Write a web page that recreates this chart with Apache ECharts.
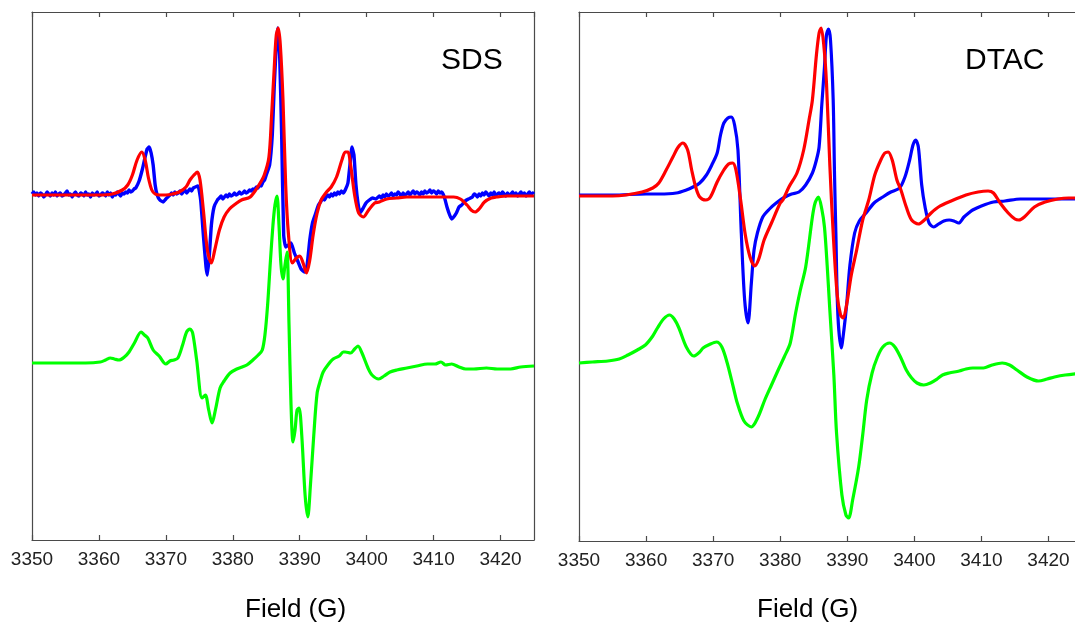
<!DOCTYPE html>
<html><head><meta charset="utf-8">
<script src="https://cdn.jsdelivr.net/npm/echarts@6/dist/echarts.min.js"></script>
<style>html,body{margin:0;padding:0;background:#fff}#c{width:1075px;height:628px}</style>
</head><body><div id="c"></div>
<script>
// axis settings
const fieldMin = 3350, fieldMax = 3425, fieldStep = 10;
const panelLabels = ['SDS', 'DTAC'];
const axisTitle = 'Field (G)';
const intensityRangeSDS = [-345, 183];
const intensityRangeDTAC = [-346, 183];

// SDS: experimental (blue, noisy)
const sdsExp = [[3350,1],[3350.25,3],[3350.5,0],[3350.75,2],[3351,-1],[3351.25,2],[3351.5,1],[3351.75,-2],[3352,0],[3352.25,3],[3352.5,1],[3352.75,-1],[3353,2],[3353.25,0],[3353.5,3],[3353.75,-1],[3354,1],[3354.25,2],[3354.5,-1],[3354.75,0],[3355,2],[3355.25,4],[3355.5,0],[3355.75,1],[3356,-2],[3356.25,1],[3356.5,3],[3356.75,0],[3357,-1],[3357.25,2],[3357.5,1],[3357.75,-1],[3358,3],[3358.25,0],[3358.5,1],[3358.75,-2],[3359,2],[3359.25,0],[3359.5,1],[3359.75,3],[3360,-1],[3360.25,0],[3360.5,2],[3360.75,1],[3361,-1],[3361.25,3],[3361.5,0],[3361.75,2],[3362,-2],[3362.25,1],[3362.5,0],[3362.75,3],[3363,1],[3363.25,-1],[3363.5,2],[3363.75,1],[3364,3],[3364.25,2],[3364.5,5],[3364.75,3],[3365,4],[3365.25,6],[3365.5,7],[3366,14],[3366.5,26],[3366.9,38],[3367.2,46],[3367.5,48],[3367.8,42],[3368.1,30],[3368.4,10],[3368.7,0],[3369.1,-5],[3369.6,-7],[3370,-4],[3370.3,-2],[3370.6,0],[3370.85,2],[3371.1,0],[3371.35,3],[3371.6,1],[3371.85,2],[3372.1,4],[3372.35,1],[3372.6,3],[3372.85,5],[3373.1,2],[3373.35,4],[3373.6,6],[3373.85,4],[3374.1,7],[3374.4,8],[3374.8,9],[3375.2,-5],[3375.6,-40],[3376,-72],[3376.2,-80],[3376.5,-60],[3376.8,-30],[3377.2,-12],[3377.7,-5],[3378,-3],[3378.25,-1],[3378.5,-4],[3378.75,-2],[3379,0],[3379.25,-2],[3379.5,1],[3379.75,-1],[3380,0],[3380.25,2],[3380.5,0],[3380.75,1],[3381,3],[3381.25,1],[3381.5,2],[3381.75,4],[3382,2],[3382.25,3],[3382.5,5],[3382.75,4],[3383,6],[3383.25,5],[3383.5,8],[3383.75,7],[3384,10],[3384.25,9],[3384.5,13],[3384.75,15],[3385,20],[3385.5,30],[3385.9,60],[3386.2,110],[3386.5,150],[3386.7,167],[3387,140],[3387.3,60],[3387.6,-40],[3387.9,-52],[3388.3,-50],[3388.7,-48],[3389.2,-58],[3389.7,-66],[3390.2,-74],[3390.7,-77],[3391.1,-70],[3391.5,-45],[3391.9,-28],[3392.3,-20],[3392.8,-10],[3393.2,-6],[3393.45,-3],[3393.7,-5],[3393.95,-2],[3394.2,0],[3394.45,-2],[3394.7,1],[3394.95,-1],[3395.2,2],[3395.45,0],[3395.7,3],[3395.95,1],[3396.2,4],[3396.5,2],[3396.8,5],[3397.2,12],[3397.5,30],[3397.8,48],[3398.1,40],[3398.4,10],[3398.7,-8],[3399,-18],[3399.4,-14],[3399.9,-8],[3400.4,-5],[3400.9,-3],[3401.4,-4],[3401.9,-1],[3402.2,-3],[3402.45,0],[3402.7,-2],[3402.95,1],[3403.2,-1],[3403.45,0],[3403.7,2],[3403.95,-1],[3404.2,1],[3404.45,0],[3404.7,3],[3404.95,1],[3405.2,-1],[3405.45,2],[3405.7,0],[3405.95,1],[3406.2,3],[3406.45,0],[3406.7,2],[3406.95,4],[3407.2,1],[3407.45,3],[3407.7,2],[3407.95,0],[3408.2,3],[3408.45,1],[3408.7,4],[3408.95,2],[3409.2,3],[3409.45,5],[3409.7,2],[3409.95,4],[3410.2,3],[3410.45,1],[3410.7,4],[3410.95,2],[3411.2,3],[3411.6,-2],[3412,-12],[3412.4,-20],[3412.7,-24],[3413,-22],[3413.4,-18],[3413.8,-12],[3414.2,-10],[3414.7,-6],[3415.2,-4],[3415.8,-2],[3416.05,1],[3416.3,0],[3416.55,-2],[3416.8,1],[3417.05,-1],[3417.3,2],[3417.55,0],[3417.8,3],[3418.05,1],[3418.3,-1],[3418.55,2],[3418.8,0],[3419.05,3],[3419.3,-1],[3419.55,1],[3419.8,2],[3420.05,0],[3420.3,3],[3420.55,1],[3420.8,-1],[3421.05,2],[3421.3,0],[3421.55,1],[3421.8,3],[3422.05,0],[3422.3,2],[3422.55,-1],[3422.8,1],[3423.05,3],[3423.3,0],[3423.55,2],[3423.8,-1],[3424.05,1],[3424.3,3],[3424.55,0],[3424.8,2],[3425,1]];

// SDS: simulation (red)
const sdsSim = [[3350,0],[3355,0],[3360,0],[3362,1],[3363.5,5],[3364.3,10],[3365,20],[3365.7,35],[3366.4,43],[3366.9,35],[3367.4,17],[3367.9,5],[3368.4,1],[3369.1,0],[3370,0],[3371,1],[3372,3],[3373,8],[3373.6,15],[3374.2,20],[3374.7,23],[3375.1,15],[3375.6,-15],[3376.2,-55],[3376.8,-68],[3377.3,-55],[3378,-35],[3378.7,-22],[3379.5,-14],[3380.4,-9],[3381.3,-5],[3382.6,-2],[3383.9,10],[3384.7,20],[3385.4,38],[3385.8,80],[3386.2,128],[3386.5,160],[3386.8,167],[3387.1,150],[3387.5,95],[3387.9,10],[3388.3,-38],[3388.9,-68],[3389.5,-63],[3390,-61],[3390.5,-68],[3391,-78],[3391.5,-65],[3392,-40],[3392.6,-18],[3393.2,-5],[3394,3],[3394.7,8],[3395.5,18],[3396.3,35],[3396.8,43],[3397.2,43],[3397.6,30],[3398.2,0],[3398.8,-18],[3399.5,-22],[3400.3,-15],[3401.2,-8],[3401.9,-7],[3403,-4],[3404.5,-3],[3406,-2],[3410,-2],[3413,-2],[3414,-4],[3415,-10],[3415.6,-15],[3416.2,-17],[3416.8,-14],[3417.6,-7],[3418.6,-3],[3419.4,-2],[3421,-1],[3425,-1]];

// SDS: lower trace (green)
const sdsLow = [[3350,-168],[3355,-168],[3358,-168],[3360.2,-167],[3361,-165],[3361.7,-163],[3362.3,-164],[3363,-165],[3363.8,-162],[3364.5,-157],[3365.3,-148],[3366.3,-137],[3366.8,-140],[3367.3,-143],[3368.1,-155],[3369,-161],[3370,-169],[3370.6,-166],[3371.2,-165],[3371.8,-163],[3372.5,-150],[3373.1,-137],[3373.6,-134],[3374,-138],[3374.6,-165],[3375.4,-203],[3375.9,-200],[3376.4,-215],[3376.9,-228],[3377.4,-215],[3378.1,-193],[3378.7,-186],[3379.6,-178],[3380.6,-174],[3381.4,-172],[3382.1,-170],[3383,-165],[3383.8,-160],[3384.4,-155],[3384.8,-140],[3385.2,-110],[3385.6,-68],[3386,-30],[3386.3,-10],[3386.6,-1],[3386.9,-30],[3387.2,-70],[3387.5,-84],[3387.8,-70],[3388.1,-57],[3388.4,-130],[3388.7,-210],[3389,-247],[3389.3,-235],[3389.6,-215],[3389.9,-213],[3390.3,-240],[3390.8,-300],[3391.2,-322],[3391.6,-290],[3392.1,-240],[3392.6,-198],[3393.1,-185],[3393.5,-177],[3394.2,-170],[3395,-164],[3395.9,-161],[3396.5,-157],[3396.8,-157],[3397.6,-158],[3398.2,-154],[3398.7,-151],[3399.3,-158],[3400.2,-173],[3400.8,-180],[3401.8,-184],[3402.6,-181],[3403.5,-177],[3404.5,-175],[3406,-173],[3407.5,-171],[3409.1,-169],[3410.2,-169],[3411.1,-167],[3411.8,-170],[3412.7,-169],[3413.8,-172],[3414.8,-174],[3416,-174],[3417.9,-173],[3419.5,-174],[3421.5,-174],[3423,-172],[3425,-171]];

// DTAC: experimental (blue)
const dtacExp = [[3350,0],[3355,0],[3360,1],[3362,1],[3364.5,2],[3366,5],[3367,8],[3368,12],[3369,20],[3369.8,30],[3370.6,42],[3371.1,60],[3371.6,72],[3372.2,77],[3372.7,78],[3373.2,70],[3373.7,45],[3374.2,-38],[3374.7,-105],[3375.2,-128],[3375.7,-88],[3376.1,-55],[3376.6,-38],[3377.4,-22],[3378.4,-14],[3379.4,-8],[3380.7,-2],[3381.7,1],[3382.8,3],[3383.8,10],[3384.8,22],[3385.4,35],[3385.8,48],[3386.2,90],[3386.6,128],[3386.9,160],[3387.2,166],[3387.5,155],[3387.9,95],[3388.1,20],[3388.3,-38],[3388.6,-120],[3389.1,-153],[3389.5,-135],[3389.9,-110],[3390.4,-70],[3391.1,-38],[3391.8,-26],[3392.8,-18],[3394,-8],[3395.3,-2],[3396.5,3],[3397.8,7],[3398.6,18],[3399.3,35],[3399.8,50],[3400.2,55],[3400.6,48],[3401.1,10],[3401.6,-12],[3402.2,-28],[3402.9,-32],[3403.6,-29],[3404.4,-26],[3405.2,-25],[3405.9,-26],[3406.6,-28],[3407.4,-22],[3408.1,-18],[3408.7,-15],[3410,-11],[3411.8,-7],[3413.5,-6],[3415.8,-4],[3418,-4],[3420,-4],[3423,-4],[3425,-4]];

// DTAC: simulation (red)
const dtacSim = [[3350,-1],[3355,-1],[3357,0],[3359.4,3],[3361,7],[3361.9,12],[3363,25],[3364,38],[3364.8,48],[3365.5,52],[3366.2,45],[3366.8,25],[3367.4,8],[3368,-2],[3368.9,-5],[3369.6,-2],[3370.6,13],[3371.5,24],[3372.3,31],[3372.9,32],[3373.4,25],[3374.1,-5],[3374.8,-40],[3375.5,-62],[3376.2,-71],[3376.8,-64],[3377.6,-45],[3378.7,-28],[3380,-8],[3380.4,-5],[3381.3,8],[3382.5,22],[3383.5,45],[3384.3,75],[3384.8,95],[3385.4,140],[3385.8,162],[3386.1,167],[3386.5,150],[3386.9,112],[3387.4,30],[3387.9,-38],[3388.5,-100],[3389,-120],[3389.4,-123],[3389.9,-110],[3390.6,-80],[3391.4,-55],[3392.3,-25],[3393.2,-5],[3394.1,20],[3395,35],[3395.6,42],[3396.1,43],[3396.7,35],[3397.4,15],[3398,5],[3398.8,-12],[3399.6,-25],[3400.6,-29],[3401.5,-25],[3402.5,-18],[3403.6,-12],[3405.5,-6],[3407.7,0],[3409.5,3],[3411,4],[3411.8,2],[3412.8,-8],[3414,-18],[3415,-24],[3415.6,-25],[3416.4,-22],[3417.9,-12],[3419.5,-7],[3421.4,-4],[3423,-3],[3425,-3]];

// DTAC: lower trace (green)
const dtacLow = [[3350,-168],[3352,-167],[3354.3,-166],[3356,-164],[3357.3,-160],[3358.7,-155],[3359.9,-150],[3361,-141],[3361.7,-133],[3362.6,-124],[3363.5,-120],[3364.2,-124],[3364.9,-133],[3366,-152],[3367.1,-161],[3368,-157],[3368.5,-153],[3369.6,-149],[3370.5,-147],[3371.3,-152],[3372.1,-168],[3373,-192],[3373.6,-208],[3374.6,-226],[3375.7,-232],[3376.7,-222],[3377.7,-205],[3378.7,-190],[3379.7,-175],[3380.6,-162],[3381.5,-148],[3382.3,-118],[3383,-95],[3383.8,-72],[3384.8,-22],[3385.2,-8],[3385.7,-2],[3386.2,-14],[3386.6,-32],[3387,-70],[3387.4,-115],[3388,-180],[3388.4,-238],[3389.2,-300],[3389.8,-320],[3390.2,-323],[3390.8,-305],[3391.7,-272],[3392.3,-240],[3392.9,-205],[3393.7,-178],[3394.5,-162],[3395.3,-152],[3396.3,-148],[3397.1,-152],[3398,-163],[3398.8,-175],[3399.6,-183],[3400.4,-188],[3401.4,-190],[3402.4,-188],[3403.4,-184],[3404.2,-180],[3405.2,-178],[3406.7,-176],[3407.7,-174],[3408.7,-173],[3410.3,-173],[3411.6,-170],[3413.1,-168],[3414.2,-170],[3415.3,-175],[3416.8,-182],[3418.5,-186],[3419.8,-184],[3420.9,-182],[3422.5,-180],[3425,-178]];

const FONT = '"Liberation Sans", Arial, Helvetica, sans-serif';
const AXIS_COLOR = '#4a4a4a';

function xAxesFor(gridIndex) {
  const common = {
    type: 'value', gridIndex, min: fieldMin, max: fieldMax, interval: fieldStep,
    splitLine: { show: false },
    axisLine: { show: true, onZero: false, lineStyle: { color: AXIS_COLOR, width: 1.2 } },
    axisTick: { show: true, inside: true, length: 5, lineStyle: { color: AXIS_COLOR, width: 1.2 } }
  };
  return [
    Object.assign({}, common, {
      position: 'bottom',
      axisLabel: {
        show: true, margin: 10, color: '#222', fontFamily: FONT, fontSize: 19,
        showMaxLabel: false,
        formatter: v => (Math.round(v) % fieldStep === 0 ? String(Math.round(v)) : '')
      }
    }),
    Object.assign({}, common, { position: 'top', axisLabel: { show: false } })
  ];
}
function yAxesFor(gridIndex, range) {
  const common = {
    type: 'value', gridIndex, min: range[0], max: range[1],
    splitLine: { show: false }, axisTick: { show: false }, axisLabel: { show: false },
    axisLine: { show: true, onZero: false, lineStyle: { color: AXIS_COLOR, width: 1.2 } }
  };
  return [
    Object.assign({}, common, { position: 'left' }),
    Object.assign({}, common, { position: 'right' })
  ];
}
function lineSeries(data, color, xi, yi, z, width, smooth) {
  return {
    type: 'line', data, xAxisIndex: xi, yAxisIndex: yi, showSymbol: false,
    smooth, z, clip: true, animation: false,
    lineStyle: { color, width }
  };
}

const chart = echarts.init(document.getElementById('c'), null, { renderer: 'canvas' });
chart.setOption({
  backgroundColor: '#fff',
  animation: false,
  grid: [
    { left: 32, top: 12, width: 502, height: 528, outerBoundsMode: 'none', containLabel: false },
    { left: 579, top: 12, width: 503, height: 529, outerBoundsMode: 'none', containLabel: false }
  ],
  xAxis: [...xAxesFor(0), ...xAxesFor(1)],
  yAxis: [...yAxesFor(0, intensityRangeSDS), ...yAxesFor(1, intensityRangeDTAC)],
  series: [
    lineSeries(sdsExp, '#0000ff', 0, 0, 2, 3.4, 0.15),
    lineSeries(sdsSim, '#ff0000', 0, 0, 3, 3.2, 0.3),
    lineSeries(sdsLow, '#00ff00', 0, 0, 4, 3.2, 0.3),
    lineSeries(dtacExp, '#0000ff', 2, 2, 2, 3.2, 0.3),
    lineSeries(dtacSim, '#ff0000', 2, 2, 3, 3.2, 0.3),
    lineSeries(dtacLow, '#00ff00', 2, 2, 4, 3.2, 0.3)
  ],
  graphic: [
    { type: 'text', left: 441, top: 46, style: { text: panelLabels[0], fill: '#000', font: '30px ' + FONT } },
    { type: 'text', left: 965, top: 46, style: { text: panelLabels[1], fill: '#000', font: '30px ' + FONT } },
    { type: 'text', left: 245, top: 597, style: { text: axisTitle, fill: '#000', font: '26px ' + FONT } },
    { type: 'text', left: 757, top: 597, style: { text: axisTitle, fill: '#000', font: '26px ' + FONT } }
  ]
});
</script>
</body></html>
